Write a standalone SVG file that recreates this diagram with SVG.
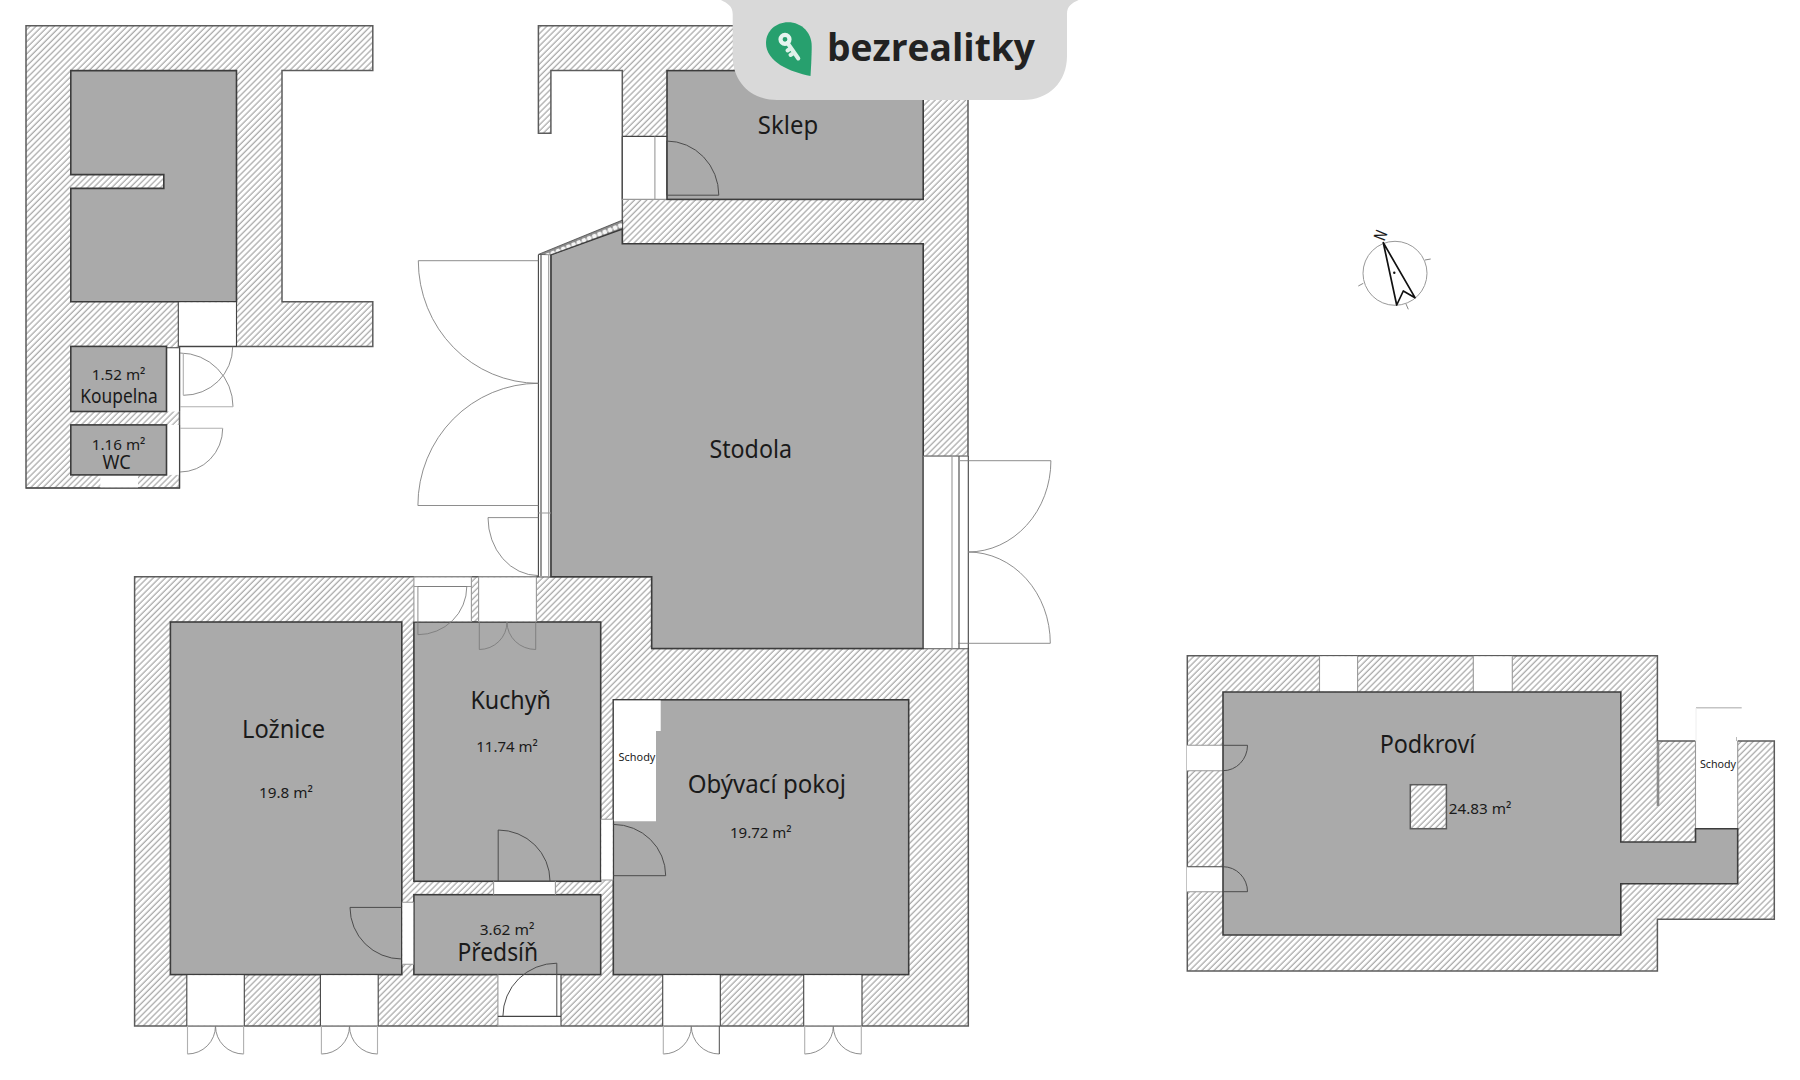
<svg xmlns="http://www.w3.org/2000/svg" width="1800" height="1080" viewBox="0 0 1800 1080">
<style>
.wall{fill:url(#hatch);stroke:#5c5c5c;stroke-width:1.5}
.room{fill:#aaa;stroke:#3c3c3c;stroke-width:1.6}
.open{fill:#fff;stroke:none}
.ln{fill:none;stroke:#444;stroke-width:1.1}
.lt{fill:none;stroke:#999;stroke-width:1.1}
.door{fill:none;stroke:#7a7a7a;stroke-width:.85}
.doorl{fill:none;stroke:#b0b0b0;stroke-width:1.1}
.doord{fill:none;stroke:#4c4c4c;stroke-width:1}
text{font-family:"Noto Sans","DejaVu Sans",sans-serif;fill:#1a1a1a;text-anchor:middle}
.big{font-size:25.5px}
.mid{font-size:19.5px}
.sm{font-size:15px}
.xs{font-size:11.5px}
</style>
<defs>
<pattern id="hatch" patternUnits="userSpaceOnUse" width="4.3" height="4.3" patternTransform="rotate(45)">
<rect width="4.3" height="4.3" fill="#fff"/>
<line x1="1" y1="0" x2="1" y2="4.3" stroke="#8c8c8c" stroke-width=".95"/>
</pattern>
<pattern id="glass" patternUnits="userSpaceOnUse" width="5.6" height="9" patternTransform="translate(538.4 254.6) rotate(-22.2)">
<rect width="5.6" height="9" fill="#8a8a8a"/>
<circle cx="2.8" cy="4.2" r="2.4" fill="#f6f6f6"/>
</pattern>
</defs>
<rect width="1800" height="1080" fill="#fff"/>

<g id="outbuilding">
<polygon class="wall" points="26,25.8 372.8,25.8 372.8,70.6 282,70.6 282,301.7 372.8,301.7 372.8,346.4 179.5,346.4 179.5,488 26,488"/>
<path class="room" d="M70.8 70.6H236.5V301.7H70.8V188.4H163.8V174.6H70.8Z"/>
<rect class="open" x="178.3" y="302.4" width="57.6" height="44.6"/>
<path class="ln" d="M178.3 301.7V346.4M236.5 301.7V346.4H178.3"/>
<rect class="open" x="166.5" y="347.8" width="13" height="63.7"/>
<path class="ln" d="M166.5 347.8H179.5V411.5"/>
<rect class="open" x="166.5" y="424.9" width="13" height="50"/>
<path class="ln" d="M179.5 424.9V488H26"/>
<rect class="open" x="100.3" y="475" width="37.7" height="12.4"/>
<path class="door" d="M180 353A53 53.7 0 0 1 233 406.7M183.3 395.3A49 48.6 0 0 0 232.7 346.7M222.7 428.3A42.7 43.7 0 0 1 180 472"/>
<path class="doorl" d="M180 406.7H233M183.3 353V395.3M180 428.3H222.7"/>
</g>
<g id="room-koupelna">
<rect class="room" x="70.8" y="346.4" width="95.7" height="65.1"/>
<text class="sm" x="118.6" y="379.8" textLength="53.6" lengthAdjust="spacingAndGlyphs">1.52 m²</text>
<text class="mid" x="119" y="402.9" textLength="77.3" lengthAdjust="spacingAndGlyphs">Koupelna</text>
</g>
<g id="room-wc">
<rect class="room" x="70.8" y="424.9" width="95.7" height="50"/>
<text class="sm" x="118.6" y="450" textLength="53.6" lengthAdjust="spacingAndGlyphs">1.16 m²</text>
<text class="mid" x="116.7" y="469.4" textLength="28.3" lengthAdjust="spacingAndGlyphs">WC</text>
</g>

<g id="barn-walls">
<polygon class="wall" points="538.4,25.8 968,25.8 968,456.3 923.2,456.3 923.2,243.8 622.3,243.8 622.3,70.6 550.9,70.6 550.9,133.3 538.4,133.3"/>
<rect class="open" x="622.6" y="136.4" width="44.4" height="63"/>
<path class="ln" d="M622.3 136.4H667M622.3 136.4V199.4"/>
<path class="lt" d="M654.9 136.4V199.4M622.3 199.4H667"/>
</g>
<g id="room-sklep">
<rect class="room" x="667" y="70.6" width="256.2" height="128.8"/>
<path class="doord" d="M666.5 141A52.3 54.2 0 0 1 718.8 195.2H666.5V141"/>
<text class="big" x="788" y="134.3" textLength="60.3" lengthAdjust="spacingAndGlyphs">Sklep</text>
</g>
<g id="main-walls">
<polygon class="wall" points="134.6,576.8 651.7,576.8 651.7,648.5 968.3,648.5 968.3,1026 134.6,1026"/>
</g>
<g id="room-stodola">
<polygon class="room" points="622.3,229 622.3,243.8 923.2,243.8 923.2,648.5 651.7,648.5 651.7,576.8 550.9,576.8 550.9,254.8"/>
<polygon points="538.4,254.4 622.6,220 622.6,228.5 550,255" fill="url(#glass)" stroke="#333" stroke-width=".7"/>
<rect class="open" x="538.8" y="255.4" width="11.4" height="321"/>
<path class="ln" d="M538.4 254.8V576.8M550.9 254.8V576.8M541 255V576"/>
<path class="lt" d="M548.7 255V576M538.4 513H550.9"/>
<rect class="open" x="923.8" y="456.6" width="44" height="191.6"/>
<path class="lt" d="M923.2 456.3H968.3M952 456.3V648.5"/>
<path class="ln" d="M959 456.3V648.5M968.3 456.3V648.5"/>
<path class="door" d="M538.4 260.7H418.3M418.3 260.7A120 122.6 0 0 0 538.4 383.3A120.5 122.2 0 0 0 417.9 505.5H538.4M538.4 517.6H488M488 517.6A50.4 58 0 0 0 538.4 575.6"/>
<path class="door" d="M960 460.7H1050.9M1050.9 460.7A82.9 91.3 0 0 1 968 552A82.3 91.3 0 0 1 1050.3 643.3H958"/>
<text class="big" x="750.7" y="458" textLength="82.6" lengthAdjust="spacingAndGlyphs">Stodola</text>
</g>

<g id="room-loznice">
<rect class="room" x="170.4" y="622" width="231.4" height="352.6"/>
<path class="doord" d="M350 907.4H401.8M350 907.4A51.8 51.6 0 0 0 401.8 959"/>
<text class="big" x="283.6" y="738" textLength="83" lengthAdjust="spacingAndGlyphs">Ložnice</text>
<text class="sm" x="286" y="798.3" textLength="53.9" lengthAdjust="spacingAndGlyphs">19.8 m²</text>
</g>
<g id="room-kuchyn">
<rect class="room" x="413.9" y="622" width="186.8" height="259.3"/>
<path class="doord" d="M498.2 881V830A51.8 51 0 0 1 550 881"/>
<path class="door" d="M479.3 622V649.5A27.7 27.5 0 0 0 507 622A28.7 27.5 0 0 0 535.7 649.5V622"/>
<text class="big" x="510.7" y="709" textLength="80.6" lengthAdjust="spacingAndGlyphs">Kuchyň</text>
<text class="sm" x="507" y="751.8" textLength="61.5" lengthAdjust="spacingAndGlyphs">11.74 m²</text>
</g>
<g id="room-predsin">
<rect class="room" x="413.9" y="894.7" width="186.8" height="79.9"/>
<text class="sm" x="507" y="934.6" textLength="54.7" lengthAdjust="spacingAndGlyphs">3.62 m²</text>
<text class="big" x="497.8" y="961" textLength="80.7" lengthAdjust="spacingAndGlyphs">Předsíň</text>
</g>
<g id="room-obyvaci">
<rect class="room" x="613.3" y="699.8" width="295.4" height="274.8"/>
<polygon class="open" points="613.9,700.5 660.7,700.5 660.7,731 656,731 656,821.3 613.9,821.3"/>
<path class="doord" d="M613.3 824.4A52.4 51.3 0 0 1 665.7 875.7H613.3"/>
<text class="xs" x="637" y="761" textLength="36.8" lengthAdjust="spacingAndGlyphs">Schody</text>
<text class="big" x="766.8" y="793.4" textLength="158.3" lengthAdjust="spacingAndGlyphs">Obývací pokoj</text>
<text class="sm" x="760.8" y="837.5" textLength="61.7" lengthAdjust="spacingAndGlyphs">19.72 m²</text>
</g>
<g id="main-openings">
<rect class="open" x="601.3" y="819.3" width="11.4" height="60.7"/>
<path class="lt" d="M600.7 819.3H613.3M600.7 880H613.3"/>
<rect class="open" x="493.6" y="881.9" width="61.8" height="12.2"/>
<path class="lt" d="M493.6 881.3V894.7M555.4 881.3V894.7"/>
<rect class="open" x="402.4" y="902.3" width="11" height="61.9"/>
<path class="lt" d="M401.8 902.3H413.9M401.8 964.2H413.9"/>
<rect class="open" x="414" y="577.4" width="57.4" height="44"/>
<path class="lt" d="M413.9 576.8H471.4V622M413.9 576.8V622M413.9 586.5H471.4"/>
<rect class="open" x="479" y="577.4" width="57" height="44"/>
<path class="lt" d="M478.6 576.8H536.4M478.6 576.8V622M536.4 576.8V622"/>
<path class="door" d="M417.9 586.5H466.8M466.8 586.5A48.9 48.2 0 0 1 417.9 634.7V586.5"/>
<rect class="open" x="186.8" y="975.2" width="57.5" height="50.2"/>
<rect class="open" x="320.4" y="975.2" width="57.8" height="50.2"/>
<rect class="open" x="497.9" y="975.2" width="63.1" height="50.2"/>
<rect class="open" x="662.7" y="975.2" width="57.6" height="50.2"/>
<rect class="open" x="803.7" y="975.2" width="58.3" height="50.2"/>
<path class="ln" d="M186.8 974.6V1026M244.3 974.6V1026M320.4 974.6V1026M378.2 974.6V1026M561 974.6V1026M662.7 974.6V1026M720.3 974.6V1026M803.7 974.6V1026M862 974.6V1026"/>
<path class="lt" d="M497.9 974.6V1026M186.8 1026H244.3M320.4 1026H378.2M497.9 1026H561M662.7 1026H720.3M803.7 1026H862"/>
<path class="ln" d="M497.9 1016.4H561"/>
<path class="doord" d="M556.8 1016.4V963.2A53.9 53.2 0 0 0 502.9 1016.4"/>
<path class="door" d="M215.5 1026A28 28 0 0 1 187.5 1054M215.5 1026A28.1 28 0 0 0 243.6 1054M349.5 1026A28 28 0 0 1 321.4 1054M349.5 1026A28 28 0 0 0 377.5 1054M691.3 1026A28 28 0 0 1 663.3 1054M691.3 1026A28 28 0 0 0 719.3 1054M833.3 1026A28.6 28 0 0 1 804.7 1054M833.3 1026A28 28 0 0 0 861.3 1054"/>
<path class="doorl" d="M187.5 1026V1054M243.6 1026V1054M321.4 1026V1054M377.5 1026V1054M663.3 1026V1054M804.7 1026V1054M861.3 1026V1054"/>
<path class="doord" d="M719.3 1026V1054"/>
</g>

<g id="attic">
<polygon class="wall" points="1187.3,655.7 1657.4,655.7 1657.4,741 1774.3,741 1774.3,919.3 1657.4,919.3 1657.4,971 1187.3,971"/>
<path d="M1658 741V806" stroke="#8c8c8c" stroke-width="2.6" fill="none"/>
<rect class="open" x="1695.5" y="740" width="42.2" height="89"/>
<path d="M1696 707.7H1741.7" stroke="#c4c4c4" stroke-width="1.4" fill="none"/>
<path d="M1696 708V741" stroke="#eee" stroke-width="1" fill="none"/>
<path d="M1736.5 737V741" stroke="#bbb" stroke-width="1" fill="none"/>
<path class="lt" d="M1695.5 741V842M1737.7 741V829"/>
<rect class="open" x="1319.5" y="656.3" width="38.1" height="35.5"/>
<rect class="open" x="1473.3" y="656.3" width="39" height="35.5"/>
<rect class="open" x="1186.8" y="745.3" width="36.2" height="25.4"/>
<rect class="open" x="1186.8" y="866.7" width="36.2" height="25"/>
<path class="lt" d="M1319.5 655.7V692M1357.6 655.7V692M1473.3 655.7V692M1512.3 655.7V692"/>
<path class="lt" d="M1187.3 745.3H1223M1187.3 770.7H1223M1187.3 891.7H1223"/>
<path class="ln" d="M1187.3 866.7H1223"/>
</g>
<g id="room-podkrovi">
<polygon class="room" points="1223,692 1620.8,692 1620.8,842 1695.5,842 1695.5,828.7 1737.7,828.7 1737.7,883.7 1620.8,883.7 1620.8,935 1223,935"/>
<rect class="wall" x="1410.3" y="784.7" width="36.1" height="44"/>
<path class="doord" d="M1223 745.3H1247.5A24.5 25.4 0 0 1 1223 770.7M1223 866.7A24.5 25 0 0 1 1247.5 891.7H1223"/>
<text class="big" x="1427.5" y="752.7" textLength="95.7" lengthAdjust="spacingAndGlyphs">Podkroví</text>
<text class="sm" x="1480" y="814" textLength="62.7" lengthAdjust="spacingAndGlyphs">24.83 m²</text>
<text class="xs" x="1718" y="768.3" textLength="36.2" lengthAdjust="spacingAndGlyphs">Schody</text>
</g>

<g id="compass">
<circle cx="1395" cy="273.3" r="32" fill="none" stroke="#999" stroke-width="1"/>
<path d="M1425 260L1430.7 259M1358.3 286L1363.3 283.3M1406 304L1408.3 309.3" stroke="#888" stroke-width="1" fill="none"/>
<polygon points="1383.3,242.7 1415,297.7 1403.3,291 1396.7,305" fill="#fff" stroke="#111" stroke-width="1.7" stroke-linejoin="round"/>
<circle cx="1394.3" cy="272.7" r="1.2" fill="#111"/>
<text x="0" y="0" transform="translate(1386 237.5) rotate(-68) scale(.72 1)" style="font-family:'Liberation Sans',sans-serif;font-size:17px;fill:#111;stroke:#111;stroke-width:.25">N</text>
</g>

<g id="logo">
<path d="M721 0H1078.6C1072 3 1067 6 1067 14V56C1067 82 1049 100 1023 100H777C751 100 732.7 82 732.7 56V14C732.7 6 727 3 721 0Z" fill="#d9d9d9"/>
<path d="M810.5 76C790 72 766 62 766 43C766 31 776 22.3 788 22.3C802 22.3 811.7 33 811.7 46C811.7 56 811 68 810.5 76Z" fill="#27a06e"/>
<path d="M787.5 43L798.3 58.5M787.5 50.5L790.5 48.5M790.5 55L793.5 53" stroke="#dff1e9" stroke-width="4" stroke-linecap="round" fill="none"/>
<circle cx="785" cy="39.3" r="4.5" fill="none" stroke="#e6f4ee" stroke-width="4.2"/>
<text x="931" y="60.5" textLength="208" lengthAdjust="spacingAndGlyphs" style="font-family:'Open Sans','Noto Sans',sans-serif;font-weight:700;font-size:37px;fill:#222">bezrealitky</text>
</g>
</svg>
